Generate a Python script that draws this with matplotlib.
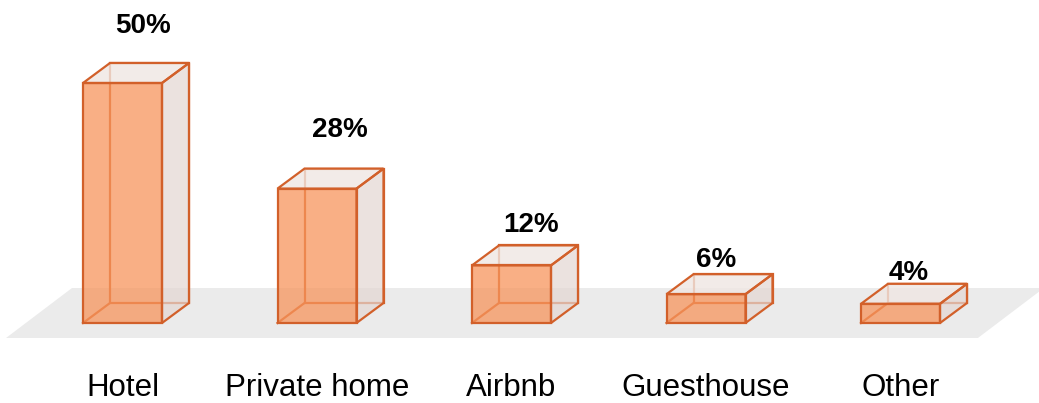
"""Pseudo-3D bar chart: accommodation type shares."""

import matplotlib

matplotlib.use("Agg")
import matplotlib.pyplot as plt
from matplotlib.patches import Polygon

categories = ["Hotel", "Private home", "Airbnb", "Guesthouse", "Other"]
shares = [50, 28, 12, 6, 4]
value_labels = ["50%", "28%", "12%", "6%", "4%"]

# layout (pixels -> data units: 194.5 px per category, 4.8 px per percent)
PX_X = 194.5
PX_Y = 4.8
BAR_W = 79 / PX_X
DX = 27 / PX_X
DY = 20 / PX_Y
# value label offsets from the back-top-left... in pixels (right, up)
label_off = [(20, 30), (23, 32), (20, 13), (10, 7), (8, 4)]

EDGE = "#D2602A"
FRONT = "#F7955C"
SIDE = "#E3D6D2"
TOP = "#EFE7E3"
FLOOR = "#EBEBEB"

plt.rcParams["font.family"] = ["Liberation Sans", "DejaVu Sans"]

fig = plt.figure(figsize=(10.39, 4.03), dpi=100)
ax = fig.add_axes([0, 0, 1, 1])
ax.set_xlim(-122.5 / PX_X, (1039 - 122.5) / PX_X)
ax.set_ylim(-80 / PX_Y, 323 / PX_Y)
ax.set_axis_off()

# floor
fy0, fy1 = -15 / PX_Y, 35 / PX_Y
floor = Polygon(
    [(-0.599, fy0), (4.398, fy0), (4.398 + 66 / PX_X, fy1), (-0.599 + 66 / PX_X, fy1)],
    closed=True, facecolor=FLOOR, edgecolor="none", zorder=0,
)
ax.add_patch(floor)

lw = 1.6
px2pt = 72 / fig.dpi
for i, (v, lab) in enumerate(zip(shares, value_labels)):
    x0, x1 = i - BAR_W / 2, i + BAR_W / 2
    # back face edges (seen through the front)
    back = [(x0 + DX, DY), (x1 + DX, DY), (x1 + DX, v + DY), (x0 + DX, v + DY)]
    ax.add_patch(Polygon(back, closed=True, facecolor="none", edgecolor=EDGE, lw=lw, zorder=1))
    # bottom face edge from front-left corner
    ax.plot([x0, x0 + DX], [0, DY], color=EDGE, lw=lw, zorder=1)
    # side face
    side = [(x1, 0), (x1 + DX, DY), (x1 + DX, v + DY), (x1, v)]
    ax.add_patch(Polygon(side, closed=True, facecolor=SIDE, alpha=0.7, edgecolor="none", zorder=2))
    ax.add_patch(Polygon(side, closed=True, facecolor="none", edgecolor=EDGE, lw=lw, zorder=4))
    # top face
    top = [(x0, v), (x1, v), (x1 + DX, v + DY), (x0 + DX, v + DY)]
    ax.add_patch(Polygon(top, closed=True, facecolor=TOP, alpha=0.8, edgecolor="none", zorder=2))
    ax.add_patch(Polygon(top, closed=True, facecolor="none", edgecolor=EDGE, lw=lw, zorder=4))
    # front face
    front = [(x0, 0), (x1, 0), (x1, v), (x0, v)]
    ax.add_patch(Polygon(front, closed=True, facecolor=FRONT, alpha=0.75, edgecolor="none", zorder=3))
    ax.add_patch(Polygon(front, closed=True, facecolor="none", edgecolor=EDGE, lw=lw, zorder=4))

    ox, oy = label_off[i]
    ax.annotate(lab, (i, v + DY), xytext=(ox * px2pt, oy * px2pt),
                textcoords="offset points", ha="center", va="baseline",
                fontsize=20, fontweight="bold", color="black", zorder=5)
    ax.text(i, -73 / PX_Y, categories[i], ha="center", va="baseline",
            fontsize=22.5, color="black", zorder=5)

fig.savefig("out.png", dpi=100)
